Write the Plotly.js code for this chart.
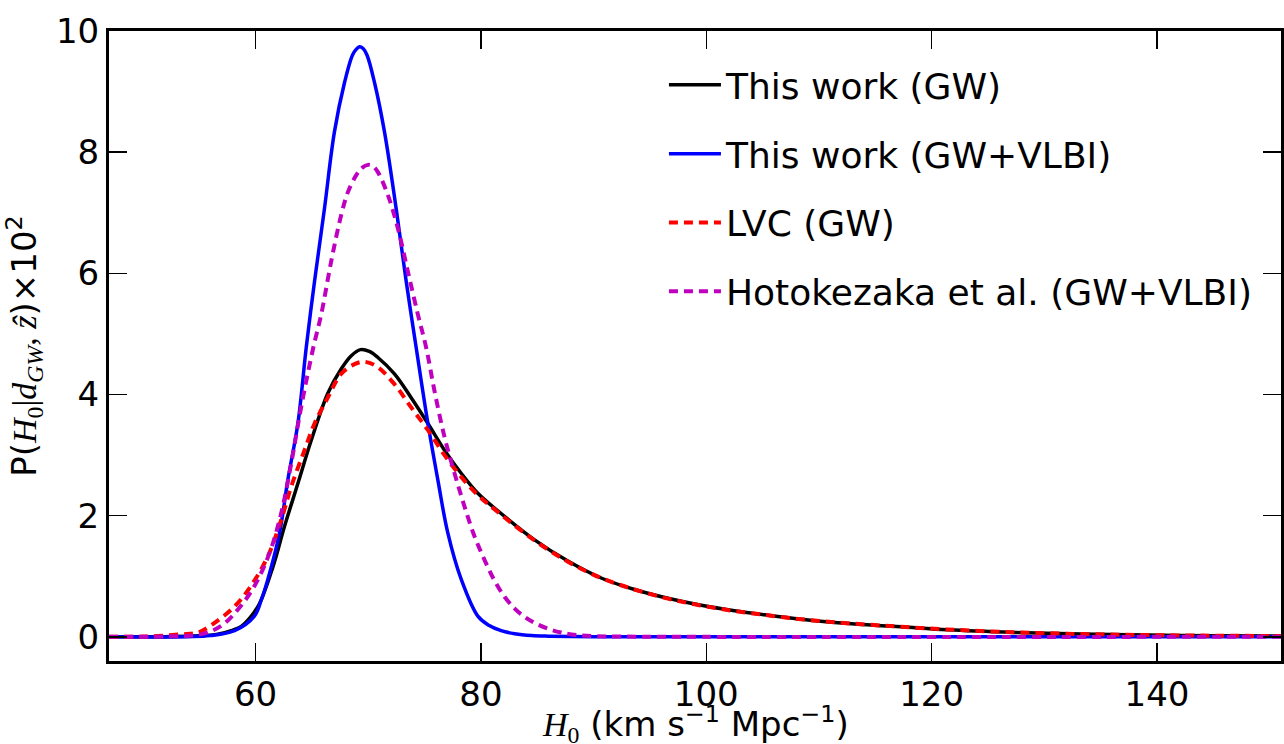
<!DOCTYPE html>
<html>
<head>
<meta charset="utf-8">
<script src="https://cdn.plot.ly/plotly-3.0.1.min.js"></script>
<style>html,body{margin:0;padding:0;background:#fff;}#chart{width:1284px;height:744px;}</style>
</head>
<body>
<div id="chart"></div>
<script>
// This work (GW)
const gwX = [47, 52, 55, 56.66, 58, 58.73, 59.5, 60.36, 61.54, 62.57, 63.76, 64.94, 66.42, 67.6, 68.5, 69.32, 70.1, 70.86, 72.33, 73.8, 75.3, 76.77, 78.25, 79.73, 81.5, 84.76, 87.72, 90.67, 93.63, 96.6, 99.55, 102.5, 105.47, 108.4, 111.4, 114.3, 117.3, 121.4, 127.3, 133.3, 139.2, 145.1, 151];
const gwY = [0, 0.002, 0.015, 0.044, 0.11, 0.17, 0.31, 0.55, 1.15, 1.82, 2.53, 3.24, 4.02, 4.42, 4.64, 4.74, 4.71, 4.61, 4.34, 3.95, 3.52, 3.08, 2.70, 2.37, 2.08, 1.60, 1.25, 0.97, 0.78, 0.635, 0.52, 0.43, 0.356, 0.29, 0.236, 0.197, 0.164, 0.115, 0.072, 0.044, 0.028, 0.018, 0.012];

// This work (GW+VLBI)
const vlbiX = [47, 54, 56, 58.14, 59.9, 60.5, 61.1, 62.13, 62.87, 63.76, 64.5, 65.24, 66.12, 67.0, 67.9, 68.6, 68.95, 69.23, 69.55, 69.9, 70.56, 71.45, 72.48, 73.37, 74.26, 75.3, 76.18, 77.07, 78.25, 79.73, 80.7, 81.8, 83, 84.5, 86, 90, 100, 151];
const vlbiY = [0, 0.002, 0.02, 0.1, 0.34, 0.6, 0.95, 1.71, 2.59, 3.52, 4.77, 5.87, 7.07, 8.33, 9.15, 9.6, 9.70, 9.74, 9.71, 9.6, 9.15, 8.33, 7.07, 5.87, 4.77, 3.52, 2.59, 1.71, 0.95, 0.34, 0.19, 0.1, 0.05, 0.02, 0.01, 0.002, 0, 0];

// LVC (GW)
const lvcX = [47, 50, 53.4, 54.9, 56.07, 58.14, 59.6, 61.1, 62.28, 63.17, 64.35, 65.24, 66.42, 67.6, 68.79, 69.67, 70.86, 72.33, 73.8, 75.3, 76.77, 78.25, 79.73, 81.5, 84.76, 87.72, 90.67, 93.63, 96.6, 99.55, 102.5, 105.47, 108.4, 111.4, 114.3, 117.3, 121.4, 127.3, 133.3, 139.2, 145.1, 151];
const lvcY = [0, 0.003, 0.04, 0.07, 0.19, 0.5, 0.84, 1.33, 1.93, 2.48, 3.08, 3.52, 3.95, 4.34, 4.50, 4.54, 4.45, 4.17, 3.79, 3.41, 3.0, 2.64, 2.34, 2.06, 1.59, 1.24, 0.97, 0.78, 0.63, 0.515, 0.425, 0.355, 0.29, 0.24, 0.2, 0.165, 0.12, 0.075, 0.045, 0.028, 0.018, 0.012];

// Hotokezaka et al. (GW+VLBI)
const hotX = [47, 52, 55.2, 56.96, 58.44, 59.91, 61.24, 62.28, 63.17, 64.05, 65.1, 65.83, 66.72, 67.6, 68.2, 68.94, 69.45, 69.97, 70.4, 70.86, 71.75, 72.64, 73.52, 74.41, 75.15, 75.88, 76.77, 77.66, 78.55, 79.43, 80.32, 81.2, 82.1, 82.98, 83.87, 84.76, 86, 87.13, 88.5, 90.1, 95, 151];
const hotY = [0, 0.005, 0.044, 0.18, 0.45, 0.84, 1.38, 2.04, 2.86, 3.79, 4.75, 5.32, 6.2, 6.96, 7.34, 7.62, 7.74, 7.79, 7.77, 7.67, 7.29, 6.74, 6.03, 5.32, 4.77, 4.06, 3.30, 2.70, 2.15, 1.66, 1.27, 0.93, 0.66, 0.47, 0.33, 0.23, 0.13, 0.07, 0.03, 0.01, 0.001, 0];

const names = ['This work (GW)', 'This work (GW+VLBI)', 'LVC (GW)', 'Hotokezaka et al. (GW+VLBI)'];
const xTicks = [60, 80, 100, 120, 140];
const yTicks = [0, 2, 4, 6, 8, 10];

const FONT = 'DejaVu Sans';
const MATH = 'Liberation Serif';

function tr(x, y, name, color, dash, width) {
  return {
    x: x, y: y, name: name, type: 'scatter', mode: 'lines',
    legendgroup: name,
    line: {color: color, width: width, dash: dash, shape: 'spline', smoothing: 1},
    hoverinfo: 'skip'
  };
}

const data = [
  tr(gwX, gwY, names[0], '#000000', 'solid', 3.5),
  tr(vlbiX, vlbiY, names[1], '#0000ff', 'solid', 3.5),
  tr(lvcX, lvcY, names[2], '#ff0000', '9px,6px', 4),
  tr(hotX, hotY, names[3], '#bf00bf', '9px,6px', 4)
];

const axisCommon = {
  showline: true, linecolor: '#000', linewidth: 3,
  mirror: 'ticks', ticks: 'inside', ticklen: 18, tickwidth: 1.5, tickcolor: '#000',
  showgrid: false, zeroline: false,
  tickfont: {family: FONT, size: 34, color: '#000'}
};

const layout = {
  width: 1284, height: 744,
  margin: {l: 109, r: 3, t: 31, b: 83},
  paper_bgcolor: '#fff', plot_bgcolor: '#fff',
  font: {family: FONT, color: '#000'},
  showlegend: true,
  legend: {
    x: 0.4735, y: 0.962, xanchor: 'left', yanchor: 'top',
    bgcolor: 'rgba(0,0,0,0)', borderwidth: 0,
    font: {family: FONT, size: 36, color: '#000'},
    tracegroupgap: 19, itemwidth: 52
  },
  xaxis: Object.assign({}, axisCommon, {
    range: [47, 151], tickvals: xTicks, ticktext: xTicks.map(String),
    ticklabelstandoff: 1
  }),
  yaxis: Object.assign({}, axisCommon, {
    range: [-0.4, 10], tickvals: yTicks, ticktext: yTicks.map(String),
    title: {text: 'P(<span style="font-family:' + MATH + '"><i>H</i><sub>0</sub>|<i>d</i><sub><i>GW</i></sub>, <i>ẑ</i></span>)×10<sup>2</sup>',
            font: {family: FONT, size: 34, color: '#000'}, standoff: 17}
  }),
  annotations: [{
    text: '<span style="font-family:' + MATH + '"><i>H</i><sub>0</sub></span> (km s<sup>−1</sup> Mpc<sup>−1</sup>)',
    xref: 'paper', yref: 'paper', x: 0.5, y: -0.1, xanchor: 'center', yanchor: 'middle',
    showarrow: false, font: {family: FONT, size: 34, color: '#000'}
  }]
};

Plotly.newPlot('chart', data, layout, {displayModeBar: false, staticPlot: true});
</script>
</body>
</html>
